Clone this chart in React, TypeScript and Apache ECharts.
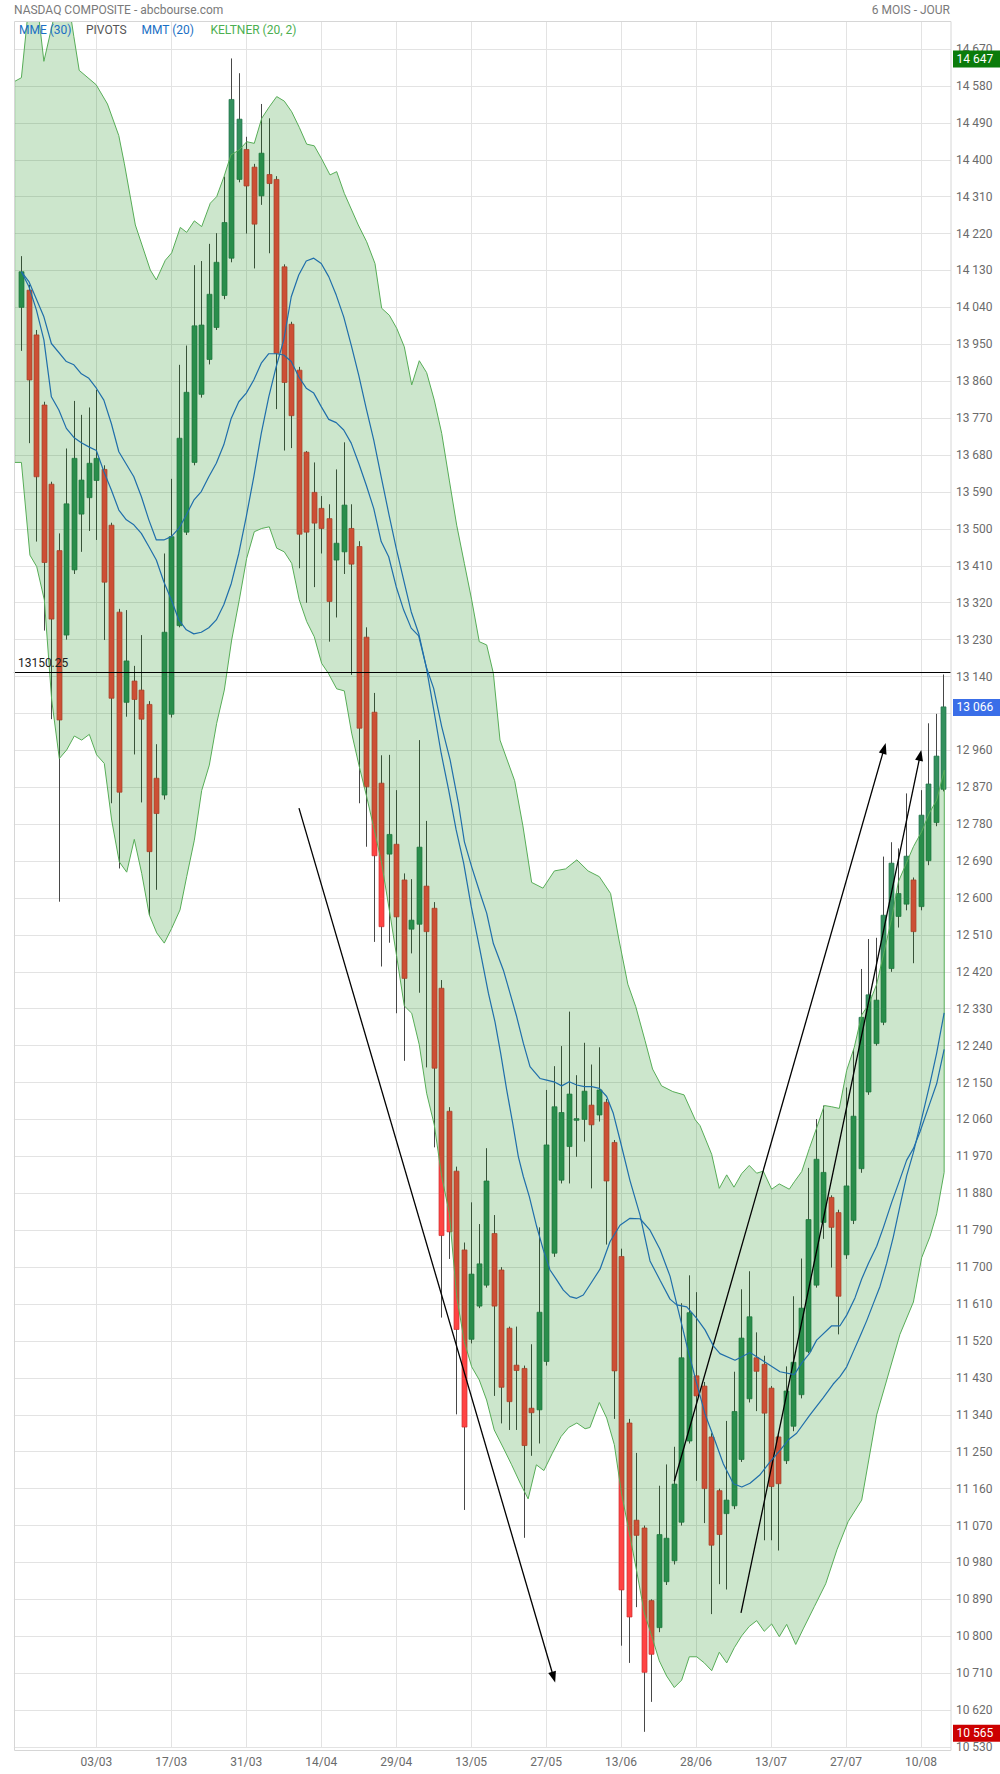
import React, { useEffect, useRef } from 'react';
import * as echarts from 'echarts';

// ---------------- DATA ----------------
const HOLIDAYS = ['2022-02-21', '2022-04-15', '2022-05-30', '2022-06-20', '2022-07-04'];
function buildTradingDays(): string[] {
  const out: string[] = [];
  let t = Date.UTC(2022, 1, 15);
  const end = Date.UTC(2022, 7, 16);
  while (t <= end) {
    const d = new Date(t);
    const wd = d.getUTCDay();
    const iso = d.toISOString().slice(0, 10);
    if (wd !== 0 && wd !== 6 && !HOLIDAYS.includes(iso)) out.push(iso.slice(8, 10) + '/' + iso.slice(5, 7));
    t += 86400000;
  }
  return out;
}
// one empty slot before the first candle and one after the last
const categories = buildTradingDays();
const tickLabels = ['03/03', '17/03', '31/03', '14/04', '29/04', '13/05', '27/05', '13/06', '28/06', '13/07', '27/07', '10/08'];
// axis levels hidden behind the current-price tag in the reference
const hiddenAxisLevels = [13050];

const opens = [14040,14082,13973,13802,13609,13447,13241,13400,13536,13576,
13618,13645,13509,13297,13077,13129,13107,13072,12892,12851,
13048,13264,13492,13662,13828,13913,13991,14069,14160,14352,
14425,14382,14312,14364,14352,14139,13999,13887,13687,13589,
13550,13525,13424,13444,13501,13457,13236,13053,12880,12707,
12731,12644,12524,12536,12629,12575,12380,12080,11934,11742,
11524,11605,11656,11782,11693,11551,11461,11453,11356,11352,
11470,11734,11912,11994,12058,12060,12095,12071,12102,12004,
11726,11320,11083,11064,10887,10821,10933,10984,11078,11276,
11435,11410,11286,11155,11099,11118,11231,11379,11479,11463,
11405,11286,11228,11312,11389,11494,11656,11809,11870,11833,
11730,11814,11940,12127,12245,12297,12428,12555,12585,12644,
12579,12691,12784,12865];
const highs = [14165,14095,13985,13810,13615,13489,13696,13812,13778,13796,
13839,13655,13515,13305,13302,13166,13241,13080,12975,13440,
13622,13900,13947,14143,14153,14195,14221,14359,14647,14611,
14456,14390,14536,14501,14360,14145,14005,13895,13690,13662,
13580,13560,13645,13711,13560,13470,13260,13100,12948,12949,
12863,12660,12646,12985,12788,12590,12400,12090,11945,11760,
11858,11805,11990,11827,11700,11555,11555,11460,11512,11797,
12132,12190,12239,12323,12168,12247,12194,12236,12110,12010,
11745,11330,11247,11070,10890,11167,11219,11262,11612,11680,
11639,11420,11295,11160,11325,11445,11646,11690,11541,11484,
11410,11290,11458,11629,11721,11942,12061,12094,11875,11840,
12138,12231,12427,12500,12503,12701,12736,12721,12855,12650,
12863,13026,13049,13145];
const lows = [13934,13709,13469,13252,13036,12591,13230,13390,13444,13495,
13473,13229,12831,12672,13042,12950,12833,12559,12620,12840,
13040,13260,13485,13655,13820,13901,13985,14060,14150,14345,
14220,14135,14290,14172,13792,13691,13697,13404,13320,13358,
13440,13225,13284,13390,13144,12831,12725,12493,12433,12491,
12319,12203,12465,12369,12187,11992,11577,11720,11341,11108,
11514,11600,11650,11386,11319,11303,11303,11040,11240,11270,
11460,11725,11904,11904,11969,12006,11892,12055,11755,11330,
10777,10735,10871,10567,10640,10810,10925,10975,11070,11270,
11179,11076,10854,10927,10914,11110,11225,11370,11349,11034,
11034,11009,11220,11300,11380,11490,11650,11769,11699,11536,
11720,11805,11930,12120,12240,12290,12420,12528,12570,12441,
12570,12680,12775,12860];
const closes = [14127,13863,13627,13418,13280,13034,13561,13672,13619,13660,
13672,13370,13087,12858,13178,13084,13036,12713,12806,13248,
13481,13721,13833,13995,13997,14072,14150,14247,14547,14499,
14336,14243,14416,14342,13928,13857,13776,13487,13492,13514,
13501,13323,13465,13558,13414,13014,12871,12703,12530,12755,
12554,12404,12546,12724,12518,12185,11777,11786,11548,11310,
11683,11708,11910,11605,11407,11372,11448,11265,11345,11590,
11998,12091,12077,12122,12062,12129,12047,12132,11910,11447,
10913,10847,11046,10712,10756,11048,11039,11171,11479,11589,
11386,11160,11022,11048,11132,11348,11527,11579,11446,11344,
11165,11172,11398,11468,11600,11816,11963,11931,11797,11629,
11898,12068,12309,12364,12351,12558,12685,12611,12702,12518,
12802,12878,12946,13066];

// [candle index, value]
const mme30 = [[0,14127],[1,14103],[3,14017],[4,13952],[6,13908],[7,13900],[8,13878],[9,13867],[10,13843],[11,13814],[12,13757],[13,13688],[15,13627],[16,13579],[17,13522],[18,13473],[19,13473],[20,13481],[21,13501],[22,13534],[23,13570],[24,13591],[25,13627],[26,13660],[27,13705],[28,13770],[29,13810],[30,13831],[31,13863],[32,13904],[33,13927],[34,13927],[35,13924],[36,13908],[37,13871],[38,13843],[39,13831],[40,13798],[41,13767],[42,13759],[43,13741],[44,13709],[45,13660],[46,13607],[47,13550],[48,13469],[49,13432],[50,13359],[51,13302],[52,13258],[53,13239],[54,13164],[55,13111],[56.07,13018],[57.2,12936],[58.3,12831],[59.1,12737],[60.07,12676],[61.2,12611],[62.07,12563],[62.96,12489],[64.3,12424],[65.18,12368],[66.07,12311],[66.96,12246],[67.85,12189],[69.18,12160],[70.08,12156],[71.18,12151],[72.08,12142],[73.09,12152],[74.08,12144],[75.1,12140],[76.08,12140],[77.1,12136],[78.08,12116],[78.96,12075],[79.86,12010],[81.19,11911],[82.53,11827],[83.86,11715],[85.2,11668],[86.53,11622],[87.42,11608],[88.76,11603],[90.09,11575],[91.2,11547],[92.31,11508],[93.2,11489],[95.2,11473],[97.2,11492],[98.98,11471],[101.2,11445],[103.11,11438],[104.09,11466],[105.12,11489],[106.09,11522],[108.1,11557],[109.2,11557],[110.1,11583],[111.2,11625],[112.1,11671],[112.99,11709],[114.1,11751],[115,11797],[116.1,11858],[117.2,11914],[118.1,11961],[118.99,11989],[119.88,12030],[121.2,12100],[122.1,12147],[123.1,12231]];
const mmt20 = [[0,14127],[1,14091],[2,14034],[3,13961],[4,13822],[5,13790],[6,13745],[7,13723],[8,13710],[9,13700],[10,13691],[11,13640],[12,13595],[13,13546],[14,13522],[15,13510],[16,13489],[17,13457],[18,13424],[19,13371],[20,13327],[21,13278],[22,13254],[23,13244],[24,13248],[25,13259],[26,13278],[27,13315],[28,13367],[29,13440],[30,13530],[31,13627],[32,13733],[33,13822],[34,13896],[35,13961],[36,14066],[37,14119],[38,14153],[39,14160],[40,14147],[41,14115],[42,14070],[43,14017],[44,13948],[45,13875],[46,13794],[47,13717],[48,13627],[49,13538],[50,13453],[51,13375],[52,13298],[53,13245],[54,13164],[55,13060],[56,12953],[57,12863],[58,12766],[59,12685],[60,12580],[61.18,12473],[62.3,12368],[63.18,12298],[63.94,12221],[64.74,12132],[65.54,12051],[66.3,11969],[66.96,11921],[67.76,11872],[68.74,11799],[69.63,11742],[70.52,11693],[71.41,11669],[72.3,11644],[73.19,11628],[74.08,11624],[74.96,11632],[75.85,11657],[77.19,11695],[78.52,11762],[79.86,11802],[81.19,11819],[82.53,11818],[83.86,11790],[85.2,11743],[86.53,11678],[87.64,11594],[88.76,11510],[90.09,11416],[91.2,11342],[92.54,11276],[93.65,11220],[94.99,11172],[96.1,11164],[97.2,11173],[98.5,11193],[99.87,11225],[101.2,11253],[102.44,11281],[103.42,11295],[105.2,11340],[106.98,11382],[108.3,11415],[109.2,11433],[110.1,11457],[110.98,11494],[111.87,11531],[112.76,11569],[113.65,11611],[114.54,11653],[115.43,11709],[116.32,11774],[117.2,11849],[118.1,11923],[118.99,11979],[119.88,12045],[121.2,12147],[122.1,12222],[123.1,12320]];

const keltnerUpper = [[-0.9,14591],[0,14600],[1,14780],[2,14800],[3,14640],[4,14720],[5,14800],[6,14820],[7,14700],[7.71,14618],[9.97,14583],[11.48,14536],[12.99,14459],[13.74,14390],[15.2,14241],[17.2,14131],[18,14107],[19.2,14155],[20.05,14173],[21.2,14235],[22.05,14223],[23.07,14251],[24.05,14237],[25.2,14294],[26.05,14310],[27.03,14359],[27.96,14412],[29.07,14424],[30.06,14444],[31.07,14440],[32.06,14501],[33.07,14529],[34.06,14554],[35.07,14543],[36.06,14517],[37.07,14479],[38.06,14438],[39.07,14434],[40.06,14402],[41.17,14363],[42.06,14371],[43.08,14318],[44.94,14241],[46.06,14200],[47.17,14147],[48.06,14038],[49.08,14021],[50.07,13989],[51.08,13944],[52.07,13851],[53.08,13910],[54.06,13881],[55.08,13814],[56.07,13733],[57.08,13619],[58.07,13509],[59.09,13416],[60.07,13327],[61.08,13225],[62.07,13217],[62.96,13148],[63.85,12985],[65.8,12886],[66.9,12776],[68.07,12638],[69.58,12624],[71.1,12666],[72.6,12671],[74.1,12693],[75.6,12666],[77.1,12652],[78.6,12611],[79.7,12500],[80.9,12390],[81.96,12335],[83.2,12252],[84.2,12183],[85.4,12142],[86.9,12128],[88.4,12120],[89.9,12059],[90.53,12045],[92.09,11975],[93.1,11892],[94.09,11925],[95.06,11895],[96.09,11928],[97.1,11948],[98.09,11929],[98.97,11934],[100.09,11890],[101.1,11903],[102.44,11890],[103.11,11908],[104.1,11933],[105.11,11989],[106.1,12040],[107.11,12094],[108.1,12091],[109.11,12087],[110.1,12180],[111.11,12236],[112.1,12315],[113.11,12343],[114.1,12390],[115.11,12470],[116.1,12550],[117,12640],[119,12725],[120.1,12762],[121.12,12807],[122.11,12839],[123.12,12912]];
const keltnerLower = [[-0.9,13662],[0,13662],[1.14,13436],[2.04,13408],[3.06,13327],[4.04,13083],[5.06,12940],[6.04,12961],[7.06,12995],[8.04,12985],[9.06,12999],[10.04,12949],[11.06,12928],[12.04,12790],[13.06,12688],[14.05,12663],[15.06,12743],[16.05,12660],[17.06,12559],[18.05,12515],[19.06,12490],[20.05,12526],[21.16,12571],[22.05,12652],[23.07,12741],[24.05,12862],[25.07,12924],[26.05,13026],[27.07,13107],[28.05,13229],[29.07,13327],[30.05,13428],[31.07,13493],[32.06,13501],[33.07,13505],[34.06,13453],[35.07,13444],[36.06,13416],[37.07,13327],[38.06,13274],[39.07,13237],[40.06,13172],[40.95,13148],[42.06,13110],[43.08,13105],[44.06,13002],[45.08,12920],[46.06,12847],[47.08,12766],[48.06,12685],[49.08,12571],[50.07,12457],[51.08,12337],[52.07,12319],[53.08,12242],[54.06,12124],[55.08,12047],[56.07,11921],[57.09,11831],[58.07,11628],[59.09,11518],[60.07,11457],[61.08,11425],[62.06,11376],[63.08,11303],[64.3,11259],[65.4,11218],[66.6,11171],[67.6,11135],[68.7,11218],[69.7,11204],[70.8,11245],[72,11287],[73,11309],[74.1,11320],[75.2,11306],[75.85,11309],[77.1,11370],[78.08,11332],[79.1,11267],[80.08,11146],[81.1,11052],[82.08,10959],[83.1,10857],[84.08,10801],[85.1,10740],[86.08,10703],[87.1,10675],[88.08,10693],[89.1,10750],[90.09,10750],[91.1,10735],[92.09,10716],[93.1,10761],[94.09,10735],[95.1,10772],[96.09,10801],[97.1,10824],[98.09,10838],[99.1,10812],[100.09,10830],[101.11,10799],[102.09,10829],[103.3,10780],[104.3,10818],[105.8,10873],[107.3,10928],[108.8,11011],[110.3,11080],[112.1,11132],[114.1,11340],[117.2,11536],[119,11615],[120.1,11723],[121.2,11774],[122.1,11830],[123.1,11931]];

// hand-drawn trend arrows: [fromIndex, fromValue, toIndex, toValue]
const arrows = [[37.03, 12819, 71.0, 10700], [87.1, 11178, 115.1, 12965], [96.0, 10857, 119.9, 12948]];
const pivotLevel = 13150.25;
const priceTags = [
  { value: 14647, label: '14 647', color: '#0b7b0b' },
  { value: 13066, label: '13 066', color: '#3a6ee8' },
  { value: 10565, label: '10 565', color: '#cc0000' },
];
const legendItems = [
  { text: 'MME (30)', x: 19, color: '#1a6fc4' },
  { text: 'PIVOTS', x: 86, color: '#555555' },
  { text: 'MMT (20)', x: 141.5, color: '#1a6fc4' },
  { text: 'KELTNER (20, 2)', x: 210.5, color: '#4caf50' },
];

const fmtNum = (v: number) => String(Math.round(v)).replace(/\B(?=(\d{3})+(?!\d))/g, ' ');

const UP_FILL = '#34905e';
const UP_EDGE = '#24744a';
const DOWN_FILL = '#ff4343';
const DOWN_EDGE = '#cc3030';
const FONT = 'Roboto, "Noto Sans", sans-serif';

export default function App() {
  const ref = useRef<HTMLDivElement>(null);
  useEffect(() => {
    if (!ref.current) return;
    const chart = echarts.init(ref.current, undefined, { renderer: 'svg' });
    const showTick = (idx: number) => tickLabels.includes(categories[idx]);
    const candleData = opens.map((o, i) => [i, o, highs[i], lows[i], closes[i]]);
    const option: any = {
      animation: false,
      backgroundColor: '#ffffff',
      textStyle: { fontFamily: FONT },
      grid: { left: 13.9, top: 12.1, width: 937, height: 1734.9, containLabel: false },
      xAxis: [
        {
          type: 'category', data: categories, boundaryGap: false,
          axisLine: { show: false }, axisTick: { show: false },
          axisLabel: { interval: (idx: number) => showTick(idx), color: '#6b6b6b', fontSize: 12, margin: 9, fontFamily: FONT },
          splitLine: { show: true, interval: (idx: number) => showTick(idx), lineStyle: { color: '#e3e3e3', width: 1 } },
        },
        { type: 'value', min: -1, max: 124, show: false },
      ],
      yAxis: {
        type: 'value', position: 'right', min: 10530, max: 14760, interval: 90, scale: true,
        axisLine: { show: false }, axisTick: { show: false },
        axisLabel: {
          color: '#6b6b6b', fontSize: 12, margin: 5, padding: [0, 0, 6, 0], fontFamily: FONT,
          formatter: (v: number) => (hiddenAxisLevels.includes(Math.round(v)) ? '' : fmtNum(v)),
        },
        splitLine: { show: true, lineStyle: { color: '#e3e3e3', width: 1 } },
      },
      series: [
        {
          name: 'candles', type: 'custom', xAxisIndex: 1, yAxisIndex: 0, z: 2, clip: true,
          data: candleData, encode: { x: 0, y: [1, 2, 3, 4] },
          renderItem: (params: any, api: any) => {
            const x = api.value(0), o = api.value(1), h = api.value(2), l = api.value(3), c = api.value(4);
            const pO = api.coord([x, o]), pH = api.coord([x, h]), pL = api.coord([x, l]), pC = api.coord([x, c]);
            const xc = Math.round(pO[0]) + 0.5;
            const up = c >= o;
            const top = Math.min(pO[1], pC[1]);
            const bot = Math.max(pO[1], pC[1]);
            return {
              type: 'group', children: [
                { type: 'line', shape: { x1: xc, y1: pH[1], x2: xc, y2: pL[1] }, style: { stroke: '#474747', lineWidth: 1 } },
                { type: 'rect', shape: { x: xc - 2.5, y: top, width: 5, height: Math.max(1.5, bot - top) }, style: { fill: up ? UP_FILL : DOWN_FILL, stroke: up ? UP_EDGE : DOWN_EDGE, lineWidth: 0.7 } },
              ],
            };
          },
        },
        {
          name: 'keltner', type: 'custom', xAxisIndex: 1, yAxisIndex: 0, z: 3, clip: true,
          data: [[0, 12000]], encode: { x: 0, y: 1 },
          renderItem: (params: any, api: any) => {
            const pts = keltnerUpper.map((p) => api.coord(p)).concat(keltnerLower.slice().reverse().map((p) => api.coord(p)));
            return { type: 'polygon', shape: { points: pts }, style: { fill: 'rgba(0,128,0,0.2)', stroke: '#57ad57', lineWidth: 1 } };
          },
        },
        {
          name: 'MME (30)', type: 'line', xAxisIndex: 1, yAxisIndex: 0, z: 5, data: mme30,
          showSymbol: false, symbol: 'none', clip: true, lineStyle: { color: '#1f6eaa', width: 1.2 },
          markLine: {
            silent: true, symbol: ['none', 'triangle'], symbolSize: [8, 11], animation: false,
            lineStyle: { color: '#000000', width: 1.3, type: 'solid' }, label: { show: false },
            data: arrows.map((a) => [{ coord: [a[0], a[1]] }, { coord: [a[2], a[3]] }]),
          },
        },
        {
          name: 'MMT (20)', type: 'line', xAxisIndex: 1, yAxisIndex: 0, z: 5, data: mmt20,
          showSymbol: false, symbol: 'none', clip: true, lineStyle: { color: '#1f6eaa', width: 1.2 },
          markLine: {
            silent: true, symbol: ['none', 'none'], animation: false,
            lineStyle: { color: '#000000', width: 1.2, type: 'solid' },
            label: { show: true, position: 'insideStartTop', distance: [4, 3], formatter: '13150.25', color: '#222222', fontSize: 12, fontFamily: FONT },
            data: [{ yAxis: pivotLevel }],
          },
        },
      ],
    };
    chart.setOption(option);

    const tagGraphics: any[] = [];
    priceTags.forEach((t) => {
      const y = chart.convertToPixel({ yAxisIndex: 0 }, t.value) as number;
      tagGraphics.push({ type: 'rect', z: 60, shape: { x: 953, y: y - 8, width: 47, height: 17 }, style: { fill: t.color } });
      tagGraphics.push({ type: 'text', z: 61, x: 956.5, y: y + 0.5, style: { text: t.label, fill: '#ffffff', font: '12px ' + FONT, verticalAlign: 'middle', align: 'left' } });
    });

    chart.setOption({
      graphic: [
        { type: 'rect', z: 50, silent: true, shape: { x: 0, y: 0, width: 1000, height: 21 }, style: { fill: '#ffffff' } },
        { type: 'rect', z: 51, silent: true, shape: { x: 14.5, y: 21.5, width: 936.5, height: 1729 }, style: { fill: 'none', stroke: '#d6d6d6', lineWidth: 1 } },
        { type: 'text', z: 52, x: 14, y: 9.5, style: { text: 'NASDAQ COMPOSITE - abcbourse.com', fill: '#7a7a7a', font: '12px ' + FONT, verticalAlign: 'middle', align: 'left' } },
        { type: 'text', z: 52, x: 950, y: 9.5, style: { text: '6 MOIS - JOUR', fill: '#7a7a7a', font: '12px ' + FONT, verticalAlign: 'middle', align: 'right' } },
        ...legendItems.map((l) => ({ type: 'text', z: 52, x: l.x, y: 29.5, style: { text: l.text, fill: l.color, font: '12px ' + FONT, verticalAlign: 'middle', align: 'left' } })),
        ...tagGraphics,
      ],
    });
    return () => chart.dispose();
  }, []);
  return <div ref={ref} style={{ position: 'absolute', left: 0, top: 0, width: 1000, height: 1774, background: '#fff' }} />;
}
